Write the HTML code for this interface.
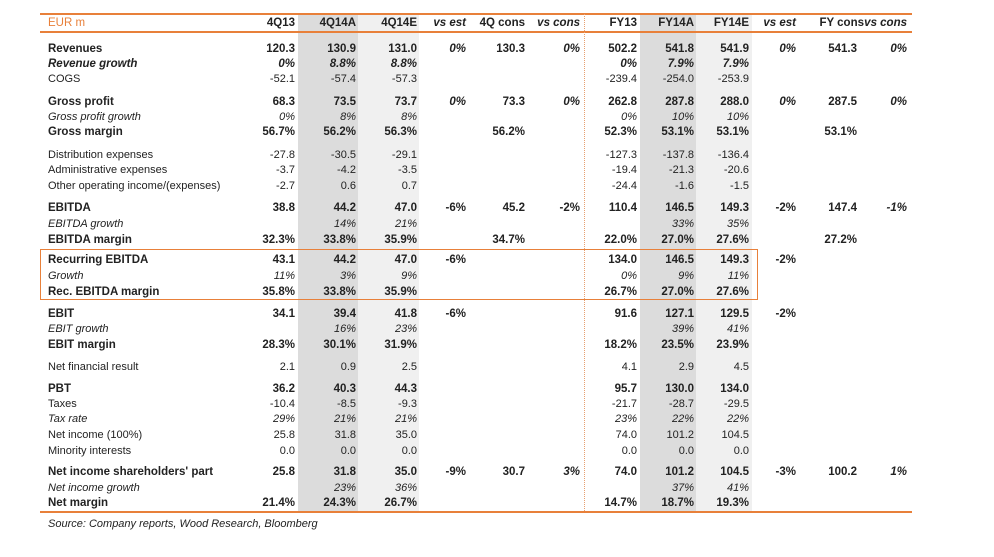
<!DOCTYPE html>
<html><head><meta charset="utf-8"><style>
body{margin:0;width:994px;height:557px;background:#fff;position:relative;overflow:hidden;font-family:"Liberation Sans",Arial,sans-serif;font-size:11px;color:#222}
.r{position:absolute;left:0;width:994px;height:15px;line-height:15px;margin-top:2px}
.r span{position:absolute;white-space:nowrap}
.l{left:48px}
.b{font-weight:bold;font-size:11.5px}
.i{font-style:italic}
.k1{right:699px}.k2{right:638px}.k3{right:577px}.k4{right:528px}.k5{right:469px}.k6{right:414px}
.k7{right:357px}.k8{right:300px}.k9{right:245px}.k10{right:198px}.k11{right:137px}.k12{right:87px}
.bx{position:absolute}
</style></head><body>
<div class="bx" style="left:298px;top:14px;width:60px;height:497px;background:#dcdcdc"></div>
<div class="bx" style="left:358px;top:14px;width:61px;height:497px;background:#f0f0f0"></div>
<div class="bx" style="left:640px;top:14px;width:56px;height:497px;background:#dcdcdc"></div>
<div class="bx" style="left:696px;top:14px;width:56px;height:497px;background:#f0f0f0"></div>
<div class="bx" style="left:40px;top:13px;width:872px;height:2px;background:#e8803a"></div>
<div class="bx" style="left:40px;top:31px;width:872px;height:2px;background:#e8803a"></div>
<div class="bx" style="left:40px;top:511px;width:872px;height:2px;background:#e8803a"></div>
<div class="bx" style="left:584px;top:14px;height:497px;border-left:1px dotted #e8a070"></div>
<div class="bx" style="left:40px;top:249px;width:716px;height:49px;border:1px solid #e8803a"></div>

<div class="r b" style="top:14px"><span class="l" style="color:#e8803a;font-weight:normal">EUR m</span><span class="k1">4Q13</span><span class="k2">4Q14A</span><span class="k3">4Q14E</span><span class="k4 i">vs est</span><span class="k5">4Q cons</span><span class="k6 i">vs cons</span><span class="k7">FY13</span><span class="k8">FY14A</span><span class="k9">FY14E</span><span class="k10 i">vs est</span><span class="k11" style="right:130px">FY cons</span><span class="k12 i">vs cons</span></div>

<div class="r b" style="top:40px"><span class="l">Revenues</span><span class="k1">120.3</span><span class="k2">130.9</span><span class="k3">131.0</span><span class="k4 i">0%</span><span class="k5">130.3</span><span class="k6 i">0%</span><span class="k7">502.2</span><span class="k8">541.8</span><span class="k9">541.9</span><span class="k10 i">0%</span><span class="k11">541.3</span><span class="k12 i">0%</span></div>
<div class="r b i" style="top:55px"><span class="l">Revenue growth</span><span class="k1">0%</span><span class="k2">8.8%</span><span class="k3">8.8%</span><span class="k7">0%</span><span class="k8">7.9%</span><span class="k9">7.9%</span></div>
<div class="r" style="top:70px"><span class="l">COGS</span><span class="k1">-52.1</span><span class="k2">-57.4</span><span class="k3">-57.3</span><span class="k7">-239.4</span><span class="k8">-254.0</span><span class="k9">-253.9</span></div>

<div class="r b" style="top:93px"><span class="l">Gross profit</span><span class="k1">68.3</span><span class="k2">73.5</span><span class="k3">73.7</span><span class="k4 i">0%</span><span class="k5">73.3</span><span class="k6 i">0%</span><span class="k7">262.8</span><span class="k8">287.8</span><span class="k9">288.0</span><span class="k10 i">0%</span><span class="k11">287.5</span><span class="k12 i">0%</span></div>
<div class="r i" style="top:108px"><span class="l">Gross profit growth</span><span class="k1">0%</span><span class="k2">8%</span><span class="k3">8%</span><span class="k7">0%</span><span class="k8">10%</span><span class="k9">10%</span></div>
<div class="r b" style="top:123px"><span class="l">Gross margin</span><span class="k1">56.7%</span><span class="k2">56.2%</span><span class="k3">56.3%</span><span class="k5">56.2%</span><span class="k7">52.3%</span><span class="k8">53.1%</span><span class="k9">53.1%</span><span class="k11">53.1%</span></div>

<div class="r" style="top:146px"><span class="l">Distribution expenses</span><span class="k1">-27.8</span><span class="k2">-30.5</span><span class="k3">-29.1</span><span class="k7">-127.3</span><span class="k8">-137.8</span><span class="k9">-136.4</span></div>
<div class="r" style="top:161px"><span class="l">Administrative expenses</span><span class="k1">-3.7</span><span class="k2">-4.2</span><span class="k3">-3.5</span><span class="k7">-19.4</span><span class="k8">-21.3</span><span class="k9">-20.6</span></div>
<div class="r" style="top:177px"><span class="l">Other operating income/(expenses)</span><span class="k1">-2.7</span><span class="k2">0.6</span><span class="k3">0.7</span><span class="k7">-24.4</span><span class="k8">-1.6</span><span class="k9">-1.5</span></div>

<div class="r b" style="top:199px"><span class="l">EBITDA</span><span class="k1">38.8</span><span class="k2">44.2</span><span class="k3">47.0</span><span class="k4">-6%</span><span class="k5">45.2</span><span class="k6">-2%</span><span class="k7">110.4</span><span class="k8">146.5</span><span class="k9">149.3</span><span class="k10">-2%</span><span class="k11">147.4</span><span class="k12 i">-1%</span></div>
<div class="r i" style="top:215px"><span class="l">EBITDA growth</span><span class="k2">14%</span><span class="k3">21%</span><span class="k8">33%</span><span class="k9">35%</span></div>
<div class="r b" style="top:231px"><span class="l">EBITDA margin</span><span class="k1">32.3%</span><span class="k2">33.8%</span><span class="k3">35.9%</span><span class="k5">34.7%</span><span class="k7">22.0%</span><span class="k8">27.0%</span><span class="k9">27.6%</span><span class="k11">27.2%</span></div>

<div class="r b" style="top:251px"><span class="l">Recurring EBITDA</span><span class="k1">43.1</span><span class="k2">44.2</span><span class="k3">47.0</span><span class="k4">-6%</span><span class="k7">134.0</span><span class="k8">146.5</span><span class="k9">149.3</span><span class="k10">-2%</span></div>
<div class="r i" style="top:267px"><span class="l">Growth</span><span class="k1">11%</span><span class="k2">3%</span><span class="k3">9%</span><span class="k7">0%</span><span class="k8">9%</span><span class="k9">11%</span></div>
<div class="r b" style="top:283px"><span class="l">Rec. EBITDA margin</span><span class="k1">35.8%</span><span class="k2">33.8%</span><span class="k3">35.9%</span><span class="k7">26.7%</span><span class="k8">27.0%</span><span class="k9">27.6%</span></div>

<div class="r b" style="top:305px"><span class="l">EBIT</span><span class="k1">34.1</span><span class="k2">39.4</span><span class="k3">41.8</span><span class="k4">-6%</span><span class="k7">91.6</span><span class="k8">127.1</span><span class="k9">129.5</span><span class="k10">-2%</span></div>
<div class="r i" style="top:320px"><span class="l">EBIT growth</span><span class="k2">16%</span><span class="k3">23%</span><span class="k8">39%</span><span class="k9">41%</span></div>
<div class="r b" style="top:336px"><span class="l">EBIT margin</span><span class="k1">28.3%</span><span class="k2">30.1%</span><span class="k3">31.9%</span><span class="k7">18.2%</span><span class="k8">23.5%</span><span class="k9">23.9%</span></div>

<div class="r" style="top:358px"><span class="l">Net financial result</span><span class="k1">2.1</span><span class="k2">0.9</span><span class="k3">2.5</span><span class="k7">4.1</span><span class="k8">2.9</span><span class="k9">4.5</span></div>

<div class="r b" style="top:380px"><span class="l">PBT</span><span class="k1">36.2</span><span class="k2">40.3</span><span class="k3">44.3</span><span class="k7">95.7</span><span class="k8">130.0</span><span class="k9">134.0</span></div>
<div class="r" style="top:395px"><span class="l">Taxes</span><span class="k1">-10.4</span><span class="k2">-8.5</span><span class="k3">-9.3</span><span class="k7">-21.7</span><span class="k8">-28.7</span><span class="k9">-29.5</span></div>
<div class="r i" style="top:410px"><span class="l">Tax rate</span><span class="k1">29%</span><span class="k2">21%</span><span class="k3">21%</span><span class="k7">23%</span><span class="k8">22%</span><span class="k9">22%</span></div>
<div class="r" style="top:426px"><span class="l">Net income (100%)</span><span class="k1">25.8</span><span class="k2">31.8</span><span class="k3">35.0</span><span class="k7">74.0</span><span class="k8">101.2</span><span class="k9">104.5</span></div>
<div class="r" style="top:442px"><span class="l">Minority interests</span><span class="k1">0.0</span><span class="k2">0.0</span><span class="k3">0.0</span><span class="k7">0.0</span><span class="k8">0.0</span><span class="k9">0.0</span></div>

<div class="r b" style="top:463px"><span class="l">Net income shareholders' part</span><span class="k1">25.8</span><span class="k2">31.8</span><span class="k3">35.0</span><span class="k4">-9%</span><span class="k5">30.7</span><span class="k6 i">3%</span><span class="k7">74.0</span><span class="k8">101.2</span><span class="k9">104.5</span><span class="k10">-3%</span><span class="k11">100.2</span><span class="k12 i">1%</span></div>
<div class="r i" style="top:479px"><span class="l">Net income growth</span><span class="k2">23%</span><span class="k3">36%</span><span class="k8">37%</span><span class="k9">41%</span></div>
<div class="r b" style="top:494px"><span class="l">Net margin</span><span class="k1">21.4%</span><span class="k2">24.3%</span><span class="k3">26.7%</span><span class="k7">14.7%</span><span class="k8">18.7%</span><span class="k9">19.3%</span></div>

<div class="r i" style="top:515px"><span class="l">Source: Company reports, Wood Research, Bloomberg</span></div>
</body></html>
